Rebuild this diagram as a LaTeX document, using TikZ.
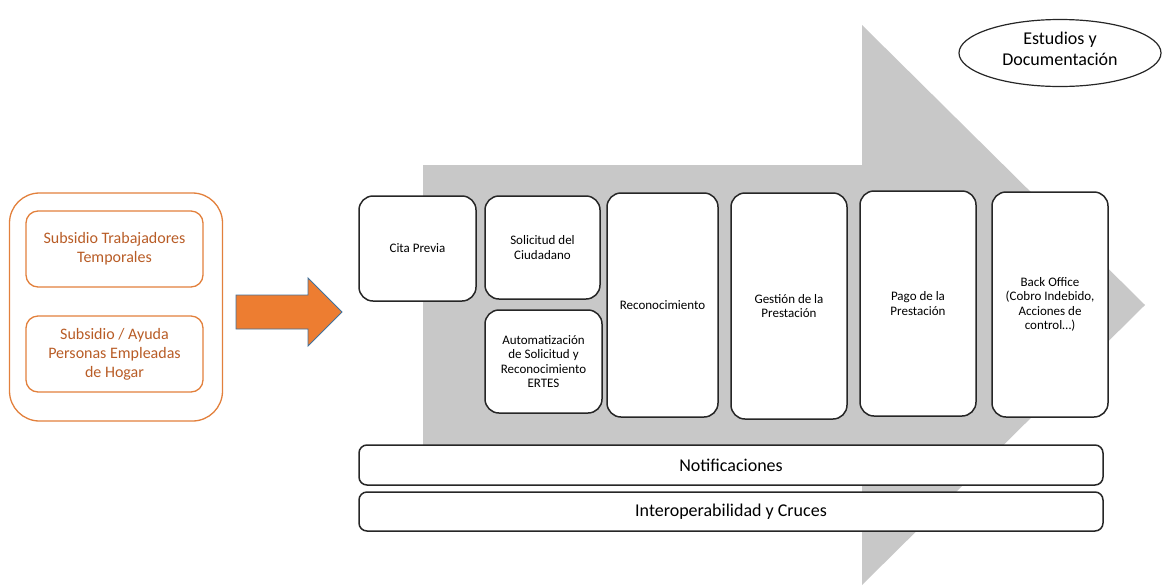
\documentclass[tikz,border=0pt]{standalone}
\usepackage{fontspec}
\setmainfont{Carlito}
\usetikzlibrary{shapes.geometric}
\definecolor{grayarrow}{RGB}{200,200,200}
\definecolor{orgline}{RGB}{226,128,60}
\definecolor{orgtext}{RGB}{184,92,38}
\definecolor{orgfill}{RGB}{237,125,49}
\definecolor{arrowedge}{RGB}{65,113,156}
\begin{document}
\begin{tikzpicture}[x=1pt,y=-1pt,
 stage/.style={draw=black!85, line width=1.5pt, fill=white, rounded corners=14pt, inner sep=2pt, align=center, font=\fontsize{13}{14.5}\selectfont},
 band/.style={draw=black!85, line width=1.5pt, fill=white, rounded corners=8pt, font=\fontsize{18}{21}\selectfont},
 subbox/.style={draw=orgline, line width=1.3pt, rounded corners=12pt, text=orgtext, align=center, font=\fontsize{16}{19}\selectfont},
 outerbox/.style={draw=orgline, line width=1.3pt, rounded corners=30pt},
 bigarrow/.style={fill=grayarrow},
 blockarrow/.style={fill=orgfill, draw=arrowedge, line width=0.9pt},
 cloud/.style={draw=black!85, line width=1.2pt, ellipse},
 cloudtext/.style={align=center, font=\fontsize{18}{20.5}\selectfont}
]
\useasboundingbox (0,0) rectangle (1164,587);

% big gray arrow
\fill[bigarrow] (423,165) -- (862,165) -- (862,25) -- (1145,305) -- (862,585) -- (862,445) -- (423,445) -- cycle;

% left group
\node[outerbox, minimum width=213, minimum height=228] (grp) at (116,307) {};
\node[subbox, minimum width=177, minimum height=76] (stt) at (114.5,249) {Subsidio Trabajadores\\Temporales};
\node[subbox, minimum width=177, minimum height=76] (seh) at (114.5,354) {Subsidio / Ayuda\\Personas Empleadas\\de Hogar};

% orange block arrow
\draw[blockarrow] (236,295) -- (308,295) -- (308,278) -- (342,312) -- (308,346) -- (308,329) -- (236,329) -- cycle;

% stages
\node[stage, minimum width=117, minimum height=105] (cita) at (417.5,248.5) {Cita Previa};
\node[stage, minimum width=115, minimum height=103] (sol) at (542.5,247.5) {Solicitud del\\Ciudadano};
\node[stage, minimum width=117, minimum height=103] (aut) at (543.5,361.5) {Automatización\\de Solicitud y\\Reconocimiento\\ERTES};
\node[stage, minimum width=111, minimum height=224] (rec) at (662.5,305) {Reconocimiento};
\node[stage, minimum width=116, minimum height=226] (ges) at (789,306) {Gestión de la\\Prestación};
\node[stage, minimum width=116, minimum height=225] (pag) at (918,303.5) {Pago de la\\Prestación};
\node[stage, minimum width=116, minimum height=225] (bo) at (1050,304.5) {Back Office\\(Cobro Indebido,\\Acciones de\\control…)};

% bands
\node[band, minimum width=744, minimum height=40] (not) at (731,465) {Notificaciones};
\node[band, minimum width=744, minimum height=39] (int) at (731,511.5) {Interoperabilidad y Cruces};

% ellipse
\node[cloud, minimum width=202, minimum height=67] (est) at (1060,53) {};
\node[cloudtext] (estl) at ([yshift=4pt]est.center) {Estudios y\\Documentación};
\end{tikzpicture}
\end{document}
